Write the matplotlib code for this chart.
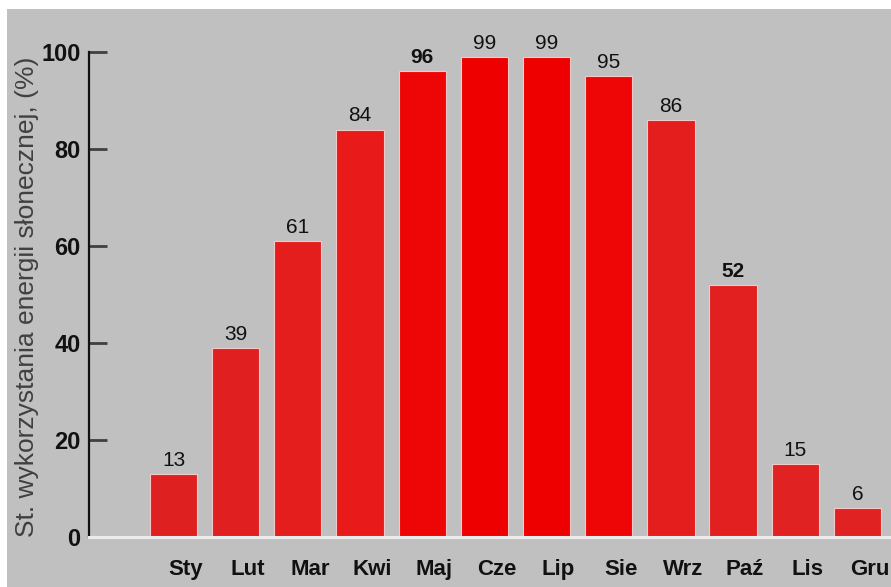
import matplotlib
matplotlib.use("Agg")
import matplotlib.pyplot as plt
import matplotlib.transforms as mtransforms
from matplotlib.patches import Rectangle

months = ["Sty", "Lut", "Mar", "Kwi", "Maj", "Cze", "Lip", "Sie", "Wrz", "Paź", "Lis", "Gru"]
usage = [13, 39, 61, 84, 96, 99, 99, 95, 86, 52, 15, 6]
bar_colors = ["#df2020", "#e02020", "#e41d1d", "#e81a1a", "#ee0606", "#ee0000",
              "#ee0000", "#ee0505", "#e41d1d", "#e22020", "#e02222", "#e02222"]
bold_values = {96, 52}
y_ticks = [0, 20, 40, 60, 80, 100]
y_label = "St. wykorzystania energii słonecznej, (%)"

W, H = 891, 587
fig = plt.figure(figsize=(W / 100, H / 100), dpi=100, facecolor="white")
fig.patches.append(Rectangle((7 / W, 0), 1 - 7 / W, 1 - 9 / H, transform=fig.transFigure,
                             facecolor="#c0c0c0", edgecolor="none", zorder=-10))

ax = fig.add_axes([89 / W, 50 / H, 1 - 89 / W, (537 - 52) / H])
ax.set_facecolor("none")

x = list(range(len(months)))
ax.bar(x, usage, width=0.76, color=bar_colors, edgecolor="#f2c8c8", linewidth=0.8, zorder=3)

for xi, v in zip(x, usage):
    ax.annotate(str(v), (xi, v), xytext=(0, 3), textcoords="offset points",
                ha="center", va="bottom", fontsize=15, family="Liberation Sans",
                fontweight="bold" if v in bold_values else "normal", color="#111111",
                annotation_clip=False, zorder=4)

ax.set_xlim(-1.359, 11.539)
ax.set_ylim(0, 100)
ax.set_yticks(y_ticks)
ax.set_yticklabels([str(t) for t in y_ticks], fontsize=17, fontweight="bold",
                   family="Liberation Sans", color="#111111")
ax.tick_params(axis="y", direction="in", length=13, width=2, pad=6, colors="#404040",
               labelcolor="#111111")
for t in ax.yaxis.get_major_ticks():
    if t.get_loc() == 20:
        t.tick1line.set_color("#e6e6e6")

ax.set_xticks(x)
ax.set_xticklabels(months, fontsize=16, fontweight="bold", family="Liberation Sans",
                   color="#111111")
ax.tick_params(axis="x", length=0, pad=16)
shift = mtransforms.ScaledTranslation(12 / 100, 0, fig.dpi_scale_trans)
for lbl in ax.get_xticklabels():
    lbl.set_transform(lbl.get_transform() + shift)

for s in ["top", "right"]:
    ax.spines[s].set_visible(False)
ax.spines["left"].set_color("#111111")
ax.spines["left"].set_linewidth(1.6)
ax.spines["bottom"].set_color("#ececec")
ax.spines["bottom"].set_linewidth(2.2)
ax.spines["bottom"].set_zorder(5)

fig.text(27 / W, 50 / H, y_label, rotation=90, ha="center", va="bottom",
         fontsize=19, family="Liberation Sans", color="#404040")

fig.savefig("out.png", dpi=100, facecolor=fig.get_facecolor())
